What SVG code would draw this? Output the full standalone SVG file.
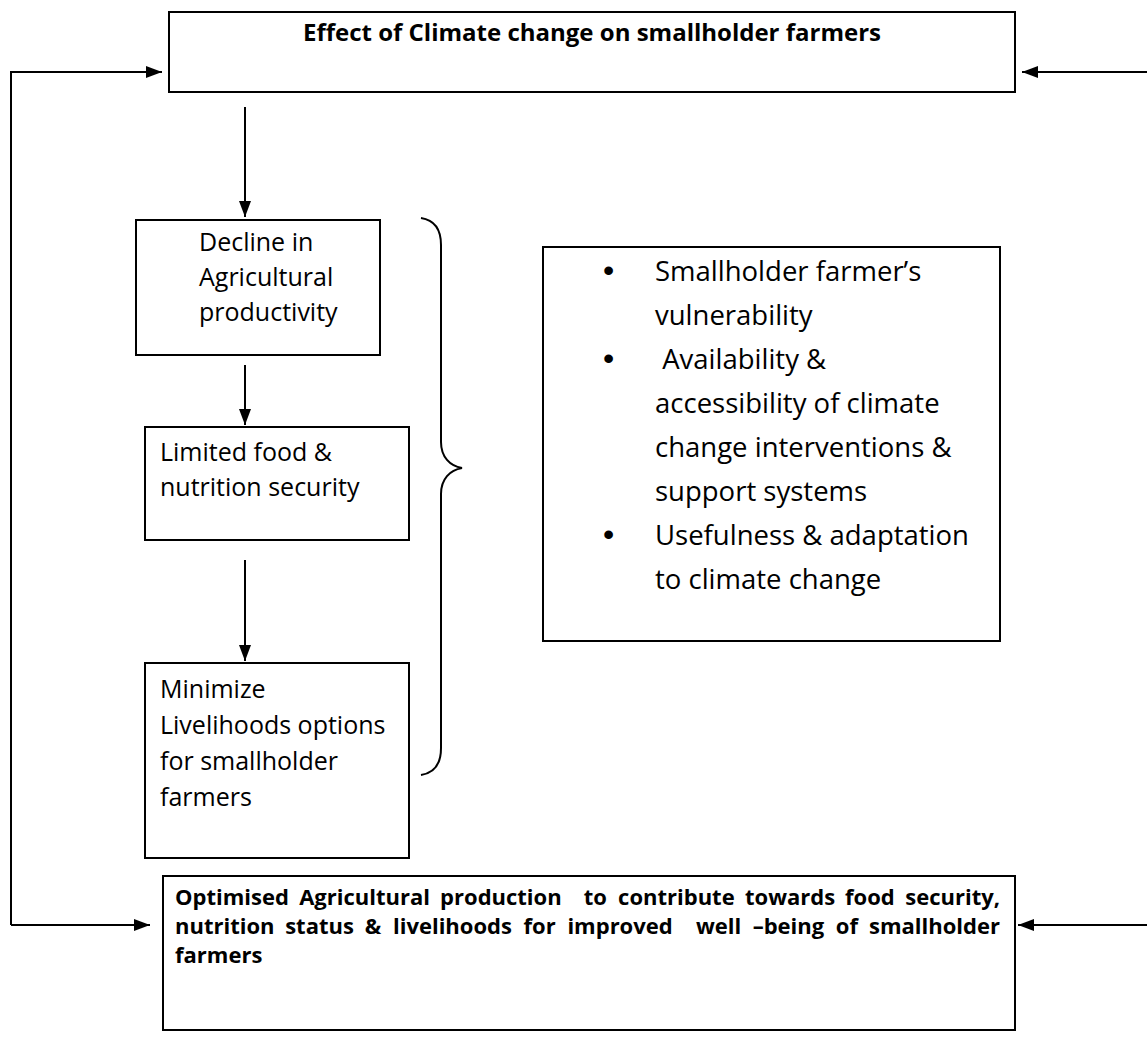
<svg xmlns="http://www.w3.org/2000/svg" width="1147" height="1057" viewBox="0 0 1147 1057">
<style>
.box{fill:#fff;stroke:#000;stroke-width:2}
.ln{fill:none;stroke:#000;stroke-width:2}
.t{font-family:"Open Sans","Liberation Sans",sans-serif;font-size:25px;fill:#000}
.tr{font-family:"Open Sans","Liberation Sans",sans-serif;font-size:27.5px;fill:#000}
.bul{font-family:"Liberation Sans",sans-serif;font-size:32px;fill:#000}
.tb{font-family:"Open Sans","Liberation Sans",sans-serif;font-size:22px;font-weight:bold;fill:#000}
</style>
<defs>
<marker id="ah" markerUnits="userSpaceOnUse" markerWidth="16" markerHeight="12" refX="16" refY="6" orient="auto">
<path d="M0,0 L16,6 L0,12 z" fill="#000"/>
</marker>
</defs>
<rect width="1147" height="1057" fill="#fff"/>
<g id="connectors">
<line class="ln" x1="245" y1="107" x2="245" y2="217" marker-end="url(#ah)"/>
<line class="ln" x1="245" y1="365" x2="245" y2="425" marker-end="url(#ah)"/>
<line class="ln" x1="245" y1="560" x2="245" y2="661" marker-end="url(#ah)"/>
<polyline class="ln" points="11,925 11,72 162,72" marker-end="url(#ah)"/>
<line class="ln" x1="11" y1="925" x2="150" y2="925" marker-end="url(#ah)"/>
<line class="ln" x1="1147" y1="72" x2="1022" y2="72" marker-end="url(#ah)"/>
<line class="ln" x1="1147" y1="925" x2="1018" y2="925" marker-end="url(#ah)"/>
<path class="ln" d="M421,218 C434,220 441,228 441,245 L441,442 C441,457 450,466 462,468 C450,470 441,479 441,494 L441,748 C441,765 434,773 421,775"/>
</g>
<g id="node-top">
<rect class="box" x="169" y="12" width="846" height="80"/>
<text class="tb" x="592" y="41" text-anchor="middle" style="font-size:24px">Effect of Climate change on smallholder farmers</text>
</g>
<g id="node-decline">
<rect class="box" x="136" y="220" width="244" height="135"/>
<text class="t" x="199" y="251">Decline in</text>
<text class="t" x="199" y="286">Agricultural</text>
<text class="t" x="199" y="321">productivity</text>
</g>
<g id="node-limited">
<rect class="box" x="145" y="427" width="264" height="113"/>
<text class="t" x="160" y="461">Limited food &amp;</text>
<text class="t" x="160" y="496">nutrition security</text>
</g>
<g id="node-minimize">
<rect class="box" x="145" y="663" width="264" height="195"/>
<text class="t" x="160" y="698">Minimize</text>
<text class="t" x="160" y="734">Livelihoods options</text>
<text class="t" x="160" y="770">for smallholder</text>
<text class="t" x="160" y="806">farmers</text>
</g>
<g id="node-factors">
<rect class="box" x="543" y="247" width="457" height="394"/>
<text class="bul" x="603" y="281">•</text>
<text class="tr" x="655" y="281">Smallholder farmer’s</text>
<text class="tr" x="655" y="325">vulnerability</text>
<text class="bul" x="603" y="369">•</text>
<text class="tr" x="655" y="369" style="white-space:pre"> Availability &amp;</text>
<text class="tr" x="655" y="413">accessibility of climate</text>
<text class="tr" x="655" y="457">change interventions &amp;</text>
<text class="tr" x="655" y="501">support systems</text>
<text class="bul" x="603" y="545">•</text>
<text class="tr" x="655" y="545">Usefulness &amp; adaptation</text>
<text class="tr" x="655" y="589">to climate change</text>
</g>
<g id="node-outcome">
<rect class="box" x="163" y="876" width="852" height="154"/>
<text class="tb" y="905"><tspan x="175">Optimised</tspan><tspan x="299.2">Agricultural</tspan><tspan x="440.1">production</tspan><tspan x="583.7">to</tspan><tspan x="618.1">contribute</tspan><tspan x="745">towards</tspan><tspan x="845.1">food</tspan><tspan x="1000" text-anchor="end">security,</tspan></text>
<text class="tb" y="934"><tspan x="175">nutrition</tspan><tspan x="285.2">status</tspan><tspan x="364.7">&amp;</tspan><tspan x="393">livelihoods</tspan><tspan x="523.6">for</tspan><tspan x="567.4">improved</tspan><tspan x="695.9">well</tspan><tspan x="752.7">–being</tspan><tspan x="835.8">of</tspan><tspan x="1000" text-anchor="end">smallholder</tspan></text>
<text class="tb" x="175" y="963">farmers</text>
</g>
</svg>
